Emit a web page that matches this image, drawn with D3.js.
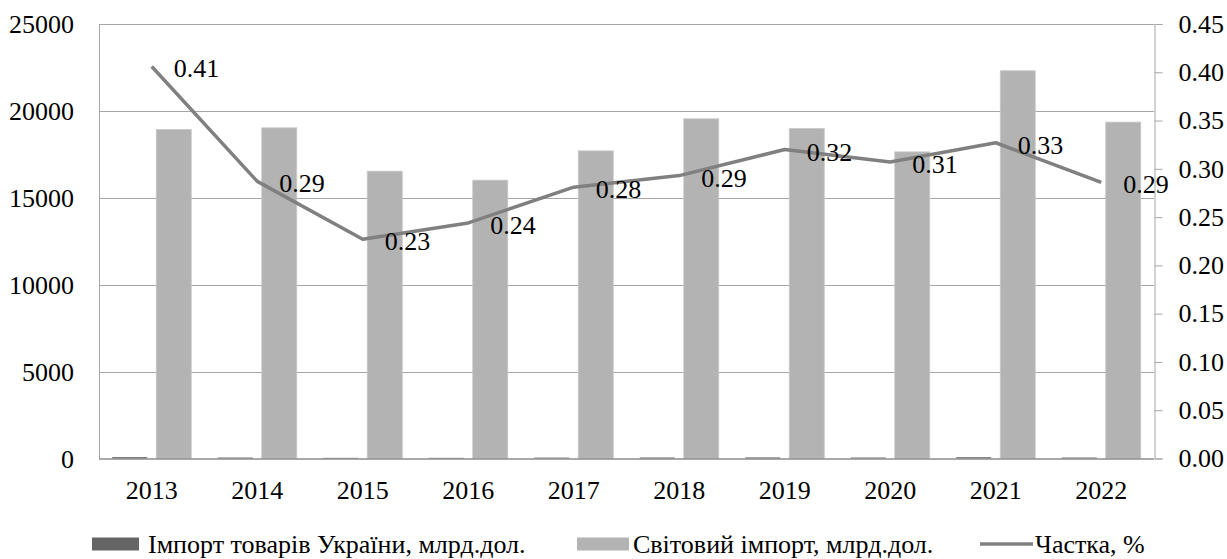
<!DOCTYPE html>
<html>
<head>
<meta charset="utf-8">
<script src="https://cdn.jsdelivr.net/npm/d3@7/dist/d3.min.js"></script>
<style>
  html, body { margin: 0; padding: 0; background: #fff; }
  svg { display: block; }
  svg text { font-family: "Liberation Serif", "Tinos", "Times New Roman", "DejaVu Serif", serif; }
</style>
</head>
<body>
<svg id="chart" width="1227" height="559"></svg>
<script>
// Years on the category axis
const years = ["2013", "2014", "2015", "2016", "2017", "2018", "2019", "2020", "2021", "2022"];
// Ukraine's goods imports, bn USD
const ukraineImport = [76.9, 54.4, 37.5, 39.2, 49.6, 57.2, 60.8, 54.2, 72.9, 55.4];
// World imports, bn USD
const worldImport = [18934, 19026, 16532, 16014, 17700, 19545, 18990, 17644, 22310, 19355];
// Ukraine's share of world imports, %
const share = [0.406, 0.287, 0.227, 0.244, 0.281, 0.293, 0.320, 0.307, 0.327, 0.286];
// Axis ticks
const leftTicks = [0, 5000, 10000, 15000, 20000, 25000];
const rightTicks = [0, 0.05, 0.10, 0.15, 0.20, 0.25, 0.30, 0.35, 0.40, 0.45];
// Series names shown in the legend
const seriesNames = ["Імпорт товарів України, млрд.дол.", "Світовий імпорт, млрд.дол.", "Частка, %"];

const colDark = "#646464", colLight = "#b3b3b3", colLine = "#808080";
const fontSize = 26;
const serif = "'Liberation Serif', 'Tinos', 'Times New Roman', 'DejaVu Serif', serif";

const svg = d3.select("#chart");
const plot = { left: 99, right: 1154, top: 24, bottom: 458.5 };

const x0 = d3.scaleBand().domain(years).range([plot.left, plot.right]).padding(0);
const x1 = d3.scaleBand().domain(["ua", "world"])
  .range([13.25, 92.25]).paddingInner(2 - 79 / 44).paddingOuter(0);
const yL = d3.scaleLinear().domain([0, 25000]).range([plot.bottom, plot.top]);
const yR = d3.scaleLinear().domain([0, 0.45]).range([plot.bottom, plot.top]);

// Horizontal gridlines
svg.append("g").selectAll("line")
  .data(leftTicks.filter(d => d > 0))
  .join("line")
  .attr("x1", plot.left).attr("x2", plot.right)
  .attr("y1", d => Math.round(yL(d)) + 0.5).attr("y2", d => Math.round(yL(d)) + 0.5)
  .attr("stroke", "#a6a6a6").attr("stroke-width", 1);

// Left axis line
svg.append("line")
  .attr("x1", plot.left + 0.5).attr("x2", plot.left + 0.5)
  .attr("y1", plot.top).attr("y2", plot.bottom)
  .attr("stroke", "#a6a6a6");

// Bars
const groups = svg.append("g").selectAll("g")
  .data(years)
  .join("g")
  .attr("transform", d => `translate(${x0(d)},0)`);

groups.append("rect")
  .attr("x", x1("ua"))
  .attr("width", x1.bandwidth())
  .attr("y", (d, i) => yL(ukraineImport[i]))
  .attr("height", (d, i) => yL(0) - yL(ukraineImport[i]))
  .attr("fill", colDark);

groups.append("rect")
  .attr("x", x1("world"))
  .attr("width", x1.bandwidth())
  .attr("y", (d, i) => yL(worldImport[i]))
  .attr("height", (d, i) => yL(0) - yL(worldImport[i]))
  .attr("fill", colLight)
  .attr("stroke", "#c8c8c8").attr("stroke-width", 0.8);

// Bottom axis line
svg.append("line")
  .attr("x1", plot.left).attr("x2", plot.right)
  .attr("y1", plot.bottom + 0.5).attr("y2", plot.bottom + 0.5)
  .attr("stroke", "#8c8c8c").attr("stroke-width", 1.5);

// Left axis labels
svg.append("g").selectAll("text")
  .data(leftTicks)
  .join("text")
  .attr("x", 74).attr("y", d => yL(d))
  .attr("dy", "0.35em")
  .attr("text-anchor", "end")
  .attr("font-family", serif)
  .attr("font-size", fontSize)
  .text(d => d);

// Right axis
const rightAxis = d3.axisRight(yR)
  .tickValues(rightTicks)
  .tickSize(8)
  .tickPadding(16)
  .tickFormat(d3.format(".2f"));
const gR = svg.append("g")
  .attr("transform", `translate(${plot.right + 0.5},0)`)
  .call(rightAxis)
  .attr("font-family", serif)
  .attr("font-size", fontSize);
gR.select(".domain").attr("stroke", "#a6a6a6");
gR.selectAll(".tick line").attr("stroke", "#a6a6a6");
gR.selectAll(".tick text").attr("fill", "#000");

// Category labels
svg.append("g").selectAll("text")
  .data(years)
  .join("text")
  .attr("x", d => x0(d) + x0.bandwidth() / 2)
  .attr("y", 499)
  .attr("text-anchor", "middle")
  .attr("font-family", serif)
  .attr("font-size", fontSize)
  .text(d => d);

// Share line
const cx = d => x0(d) + x0.bandwidth() / 2;
const line = d3.line()
  .x((d, i) => cx(years[i]))
  .y(d => yR(d));
svg.append("path")
  .datum(share)
  .attr("d", line)
  .attr("fill", "none")
  .attr("stroke", colLine)
  .attr("stroke-width", 3.5)
  .attr("stroke-linejoin", "round");

// Share data labels
svg.append("g").selectAll("text")
  .data(share)
  .join("text")
  .attr("x", (d, i) => cx(years[i]) + 22)
  .attr("y", d => yR(d) + 11)
  .attr("font-family", serif)
  .attr("font-size", fontSize)
  .text(d => d3.format(".2f")(d));

// Legend
const legY = 544;
const leg = svg.append("g").attr("font-family", serif).attr("font-size", fontSize);
leg.append("rect").attr("x", 92).attr("y", legY - 6.5).attr("width", 47).attr("height", 13).attr("fill", colDark);
leg.append("text").attr("x", 148).attr("y", legY + 9).text(seriesNames[0]);
leg.append("rect").attr("x", 577).attr("y", legY - 6.5).attr("width", 52).attr("height", 13).attr("fill", colLight);
leg.append("text").attr("x", 633).attr("y", legY + 9).text(seriesNames[1]);
leg.append("line").attr("x1", 980).attr("x2", 1033).attr("y1", legY).attr("y2", legY)
  .attr("stroke", colLine).attr("stroke-width", 3.5);
leg.append("text").attr("x", 1035).attr("y", legY + 9).text(seriesNames[2]);
</script>
</body>
</html>
